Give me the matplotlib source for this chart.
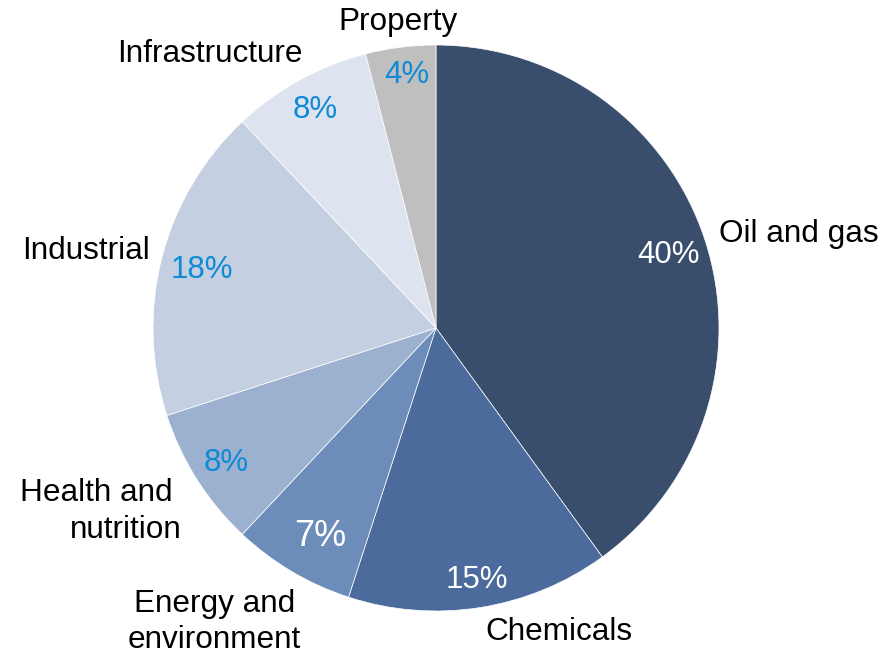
import numpy as np
import matplotlib.pyplot as plt

# datos del grafico
sectores = ['Oil and gas', 'Chemicals', 'Energy and\nenvironment', 'Health and \nnutrition',
            'Industrial', 'Infrastructure', 'Property']
porcentajes = [40, 15, 7, 8, 18, 8, 4]
colores = ['#394e6d', '#4a6b9b', '#6c8cb9', '#9cb0cf', '#c4cfe1', '#dee4ef', '#bfbfbf']

# colores y tamanos de las etiquetas de porcentaje
color_pct = ['white', 'white', 'white', '#0e8ad6', '#0e8ad6', '#0e8ad6', '#0e8ad6']
tam_pct = [22.5, 22.5, 26, 22.5, 22.5, 22.5, 22.5]

# posiciones de texto (en radios de la tarta)
pos_nombre = [(1.0, 0.332, 'left'), (0.435, -1.074, 'center'), (-0.784, -1.039, 'center'),
              (-0.898, -0.647, 'right'), (-1.237, 0.272, 'center'), (-0.799, 0.968, 'center'),
              (-0.134, 1.081, 'center')]
pos_pct = [(0.823, 0.258), (0.145, -0.890), (-0.410, -0.735), (-0.742, -0.477),
           (-0.827, 0.205), (-0.428, 0.770), (-0.102, 0.894)]

plt.rcParams['font.family'] = ['Liberation Sans', 'DejaVu Sans']

fig = plt.figure(figsize=(8.96, 6.55), dpi=100)
ax = fig.add_axes([0, 0, 1, 1])

wedges, _ = ax.pie(porcentajes, colors=colores, startangle=90, counterclock=False, radius=1,
                   wedgeprops=dict(edgecolor='white', linewidth=0.5))

for i, nombre in enumerate(sectores):
    x, y, ha = pos_nombre[i]
    ax.text(x, y, nombre, ha=ha, va='center', fontsize=22.7, color='black',
            multialignment=ha, linespacing=1.3)
    px, py = pos_pct[i]
    ax.text(px, py, f'{porcentajes[i]}%', ha='center', va='center',
            fontsize=tam_pct[i], color=color_pct[i])

r_px = 283
ax.set_xlim(-436 / r_px, (896 - 436) / r_px)
ax.set_ylim(-(655 - 328) / r_px, 328 / r_px)
ax.set_aspect('equal')
ax.axis('off')

plt.savefig('out.png', dpi=100)
